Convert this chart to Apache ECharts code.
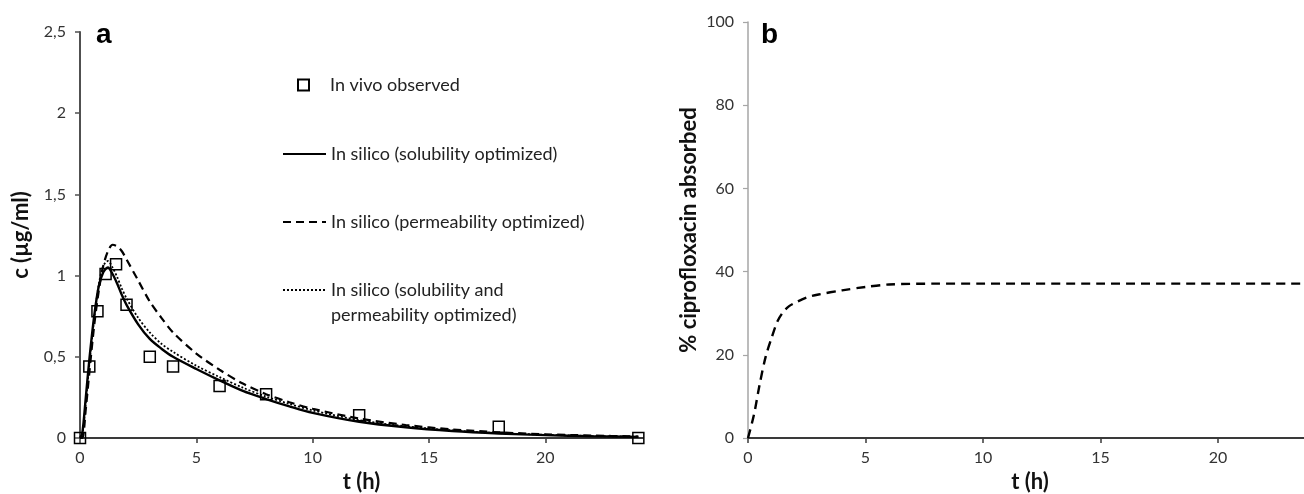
<!DOCTYPE html>
<html>
<head>
<meta charset="utf-8">
<script src="https://cdn.jsdelivr.net/npm/echarts@6/dist/echarts.min.js"></script>
<style>
  html, body { margin: 0; padding: 0; background: #fff; }
  #chart { width: 1304px; height: 494px; }
</style>
</head>
<body>
<div id="chart"></div>
<script>
// panel a - observed plasma concentration
var obsTime = [0, 0.4, 0.75, 1.1, 1.55, 2, 3, 4, 6, 8, 12, 18, 24];
var obsConc = [0, 0.44, 0.78, 1.01, 1.07, 0.82, 0.50, 0.44, 0.32, 0.27, 0.14, 0.07, 0];

// panel a - simulated curves
var simTime = [0, 0.1, 0.25, 0.4, 0.6, 0.8, 1.0, 1.2, 1.4, 1.6, 1.8, 2.0, 2.5, 3, 3.5, 4, 5, 6, 7, 8, 9, 10, 12, 14, 16, 18, 20, 22, 24];
var simSol  = [0, 0.03, 0.25, 0.48, 0.74, 0.93, 1.02, 1.05, 1.01, 0.95, 0.88, 0.82, 0.70, 0.61, 0.55, 0.50, 0.425, 0.355, 0.29, 0.24, 0.195, 0.155, 0.10, 0.066, 0.043, 0.028, 0.018, 0.011, 0.007];
var simPerm = [0, 0.0, 0.18, 0.40, 0.68, 0.90, 1.06, 1.15, 1.19, 1.18, 1.15, 1.10, 0.97, 0.84, 0.74, 0.65, 0.52, 0.42, 0.335, 0.27, 0.22, 0.18, 0.12, 0.08, 0.053, 0.035, 0.023, 0.015, 0.009];
var simBoth = [0, 0.02, 0.22, 0.45, 0.72, 0.94, 1.06, 1.09, 1.05, 0.99, 0.92, 0.86, 0.74, 0.65, 0.58, 0.53, 0.445, 0.375, 0.31, 0.255, 0.21, 0.17, 0.11, 0.072, 0.047, 0.03, 0.02, 0.012, 0.008];

// panel b - fraction absorbed
var absTime = [0, 0.25, 0.5, 0.75, 1, 1.25, 1.5, 1.75, 2, 2.5, 3, 4, 5, 6, 8, 10, 15, 20, 24];
var absPct  = [0, 5.5, 13, 19.5, 24, 28, 30.3, 31.7, 32.5, 33.8, 34.5, 35.5, 36.3, 36.9, 37.1, 37.1, 37.1, 37.1, 37.1];

var xTicks = [0, 5, 10, 15, 20];
var seriesNames = [
	'In vivo observed',
	'In silico (solubility optimized)',
	'In silico (permeability optimized)',
	'In silico (solubility and\npermeability optimized)'
];

function zip(xs, ys) {
	return xs.map(function(x, i) { return [x, ys[i]]; });
}

var labelFont = { fontFamily: 'Lato', fontSize: 16, color: '#333' };
var nameFont = { fontFamily: 'Lato', fontSize: 22, fontWeight: 'bold', color: '#111' };

function legendAt(name, top, text, isLine) {
	var lg = {
		data: [name],
		orient: 'vertical',
		left: 282,
		top: top,
		padding: 0,
		itemWidth: 43,
		itemHeight: 11,
		selectedMode: false,
		formatter: function() { return text; },
		textStyle: { fontFamily: 'Lato', fontSize: 18, color: '#222', lineHeight: 25 }
	};
	if (isLine) {
		lg.itemStyle = { opacity: 0 };
	} else {
		// square marker sits in the middle of the icon column
		lg.left = 297;
		lg.data = [{ name: name, icon: 'path://M0 0H10V10H0Z' }];
	}
	return lg;
}

var myChart = echarts.init(document.getElementById('chart'));
var option = {
	animation: false,
	title: [
		{ text: 'a', left: 96, top: 21, padding: 0, textStyle: { fontFamily: 'Liberation Sans', fontSize: 28, fontWeight: 'bold', color: '#000' } },
		{ text: 'b', left: 761, top: 21, padding: 0, textStyle: { fontFamily: 'Liberation Sans', fontSize: 28, fontWeight: 'bold', color: '#000' } }
	],
	legend: [
		legendAt(seriesNames[0], 72.5, seriesNames[0], false),
		legendAt(seriesNames[1], 141.5, seriesNames[1], true),
		legendAt(seriesNames[2], 209.5, seriesNames[2], true),
		// blank first line keeps the icon on the first text line
		legendAt(seriesNames[3], 252.5, '\u00a0\n' + seriesNames[3], true)
	],
	grid: [
		{ left: 80, top: 32, width: 563, bottom: 56, outerBoundsMode: 'none' },
		{ left: 748, top: 22, right: -8, bottom: 56, outerBoundsMode: 'none' }
	],
	xAxis: [
		{
			gridIndex: 0, type: 'value', min: 0, max: 24.2,
			name: 't (h)', nameLocation: 'middle', nameGap: 26, nameTextStyle: nameFont,
			axisLine: { lineStyle: { color: '#3a3a3a', width: 2 } },
			axisTick: { length: 5, customValues: xTicks, lineStyle: { color: '#3a3a3a', width: 1.5 } },
			axisLabel: Object.assign({ margin: 12, customValues: xTicks }, labelFont),
			splitLine: { show: false }
		},
		{
			gridIndex: 1, type: 'value', min: 0, max: 24,
			name: 't (h)', nameLocation: 'middle', nameGap: 26, nameTextStyle: nameFont,
			axisLine: { lineStyle: { color: '#3a3a3a', width: 2 } },
			axisTick: { length: 5, customValues: xTicks, lineStyle: { color: '#3a3a3a', width: 1.5 } },
			axisLabel: Object.assign({ margin: 12, customValues: xTicks }, labelFont),
			splitLine: { show: false }
		}
	],
	yAxis: [
		{
			gridIndex: 0, type: 'value', min: 0, max: 2.5, interval: 0.5,
			name: 'c (\u00b5g/ml)', nameLocation: 'middle', nameGap: 48, nameTextStyle: nameFont,
			axisLine: { show: true, lineStyle: { color: '#505050', width: 2 } },
			axisTick: { show: true, length: 5, lineStyle: { color: '#505050', width: 1.5 } },
			axisLabel: Object.assign({
				margin: 14,
				formatter: function(v) { return String(v).replace('.', ','); }
			}, labelFont),
			splitLine: { show: false }
		},
		{
			gridIndex: 1, type: 'value', min: 0, max: 100, interval: 20,
			name: '% ciprofloxacin absorbed', nameLocation: 'middle', nameGap: 48, nameTextStyle: nameFont,
			axisLine: { show: true, lineStyle: { color: '#a6a6a6', width: 1.5 } },
			axisTick: { show: true, length: 5, lineStyle: { color: '#a6a6a6', width: 1.2 } },
			axisLabel: Object.assign({ margin: 14 }, labelFont),
			splitLine: { show: false }
		}
	],
	series: [
		{
			name: seriesNames[1], type: 'line', xAxisIndex: 0, yAxisIndex: 0,
			data: zip(simTime, simSol), symbol: 'none', smooth: 0.3,
			lineStyle: { color: '#000', width: 2.4 }
		},
		{
			name: seriesNames[2], type: 'line', xAxisIndex: 0, yAxisIndex: 0,
			data: zip(simTime, simPerm), symbol: 'none', smooth: 0.3,
			lineStyle: { color: '#000', width: 2.2, type: [8, 5] }
		},
		{
			name: seriesNames[3], type: 'line', xAxisIndex: 0, yAxisIndex: 0,
			data: zip(simTime, simBoth), symbol: 'none', smooth: 0.3,
			lineStyle: { color: '#000', width: 1.8, type: [2, 2] }
		},
		{
			name: seriesNames[0], type: 'scatter', xAxisIndex: 0, yAxisIndex: 0,
			data: zip(obsTime, obsConc), symbol: 'rect', symbolSize: 11,
			itemStyle: { color: 'rgba(255,255,255,0)', borderColor: '#000', borderWidth: 1.5, opacity: 1 },
			z: 5
		},
		{
			name: 'absorbed', type: 'line', xAxisIndex: 1, yAxisIndex: 1,
			data: zip(absTime, absPct), symbol: 'none', smooth: 0.3,
			lineStyle: { color: '#000', width: 2.4, type: [9, 6] }
		}
	]
};
myChart.setOption(option);
</script>
</body>
</html>
